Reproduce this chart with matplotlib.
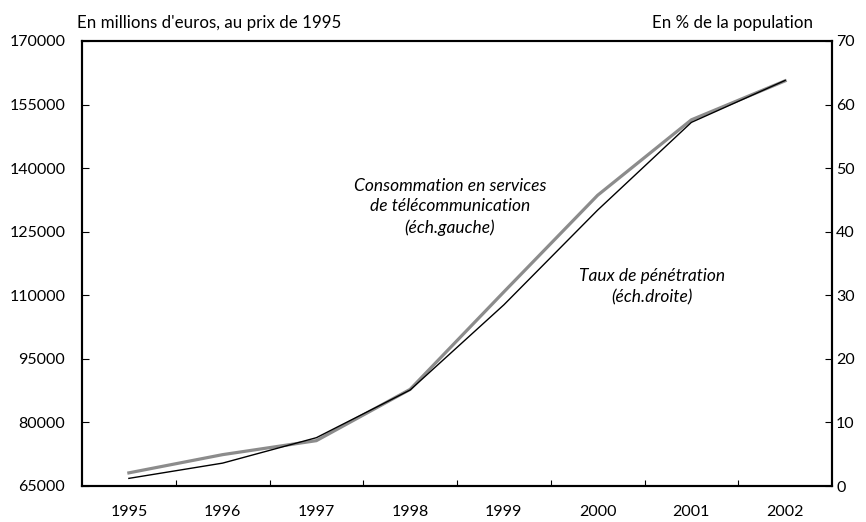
import numpy as np
import matplotlib
matplotlib.use("Agg")
import matplotlib.pyplot as plt

plt.rcParams['font.family'] = ['Lato', 'DejaVu Sans']

# données
annees = ['1995', '1996', '1997', '1998', '1999', '2000', '2001', '2002']
conso = [68100, 72400, 75700, 87800, 110800, 133600, 151400, 160600]   # éch. gauche
taux = [1.2, 3.6, 7.6, 15.1, 28.5, 43.4, 57.2, 63.8]                   # éch. droite

ticks_gauche = list(range(65000, 170001, 15000))
ticks_droite = list(range(0, 71, 10))

fig = plt.figure(figsize=(8.66, 5.22), dpi=100)
ax = fig.add_axes([82 / 866, 36 / 522, 750 / 866, 445 / 522])
ax2 = ax.twinx()

x = np.arange(len(annees))

ax.plot(x, conso, color='#8c8c8c', linewidth=2.3, solid_joinstyle='miter')
ax2.plot(x, taux, color='black', linewidth=1.0)

# axe des x : graduations entre les années, étiquettes au centre
ax.set_xlim(-0.5, len(annees) - 0.5)
ax.set_xticks(x[:-1] + 0.5)
ax.set_xticklabels([])
ax.set_xticks(x, minor=True)
ax.set_xticklabels(annees, minor=True, fontsize=11.5)
ax.tick_params(axis='x', which='major', direction='in', length=4.5, width=0.8, top=False)
ax.tick_params(axis='x', which='minor', length=0, pad=14)

ax.set_ylim(65000, 170000)
ax.set_yticks(ticks_gauche)
ax.set_yticklabels([str(t) for t in ticks_gauche], fontsize=11.5)
ax.tick_params(axis='y', direction='in', length=5, width=0.8, pad=12, right=False)

ax2.set_ylim(0, 70)
ax2.set_yticks(ticks_droite)
ax2.set_yticklabels([str(t) for t in ticks_droite], fontsize=11.5)
ax2.tick_params(axis='y', direction='in', length=5, width=0.8, pad=3, left=False)

for a in (ax, ax2):
    for s in a.spines.values():
        s.set_linewidth(1.5)

# annotations
ax.text(3.425, 0.6276, "Consommation en services\nde télécommunication\n(éch.gauche)",
        transform=ax.get_xaxis_transform(), ha='center', va='center',
        fontsize=12.5, style='italic', linespacing=1.35)
ax.text(5.58, 0.448, "Taux de pénétration\n(éch.droite)",
        transform=ax.get_xaxis_transform(), ha='center', va='center',
        fontsize=12.5, style='italic', linespacing=1.35)

fig.text(77 / 866, 1 - 23 / 522, "En millions d'euros, au prix de 1995",
         ha='left', va='center', fontsize=12.2)
fig.text(813 / 866, 1 - 23 / 522, "En % de la population",
         ha='right', va='center', fontsize=12.2)

fig.savefig('out.png', dpi=100)
